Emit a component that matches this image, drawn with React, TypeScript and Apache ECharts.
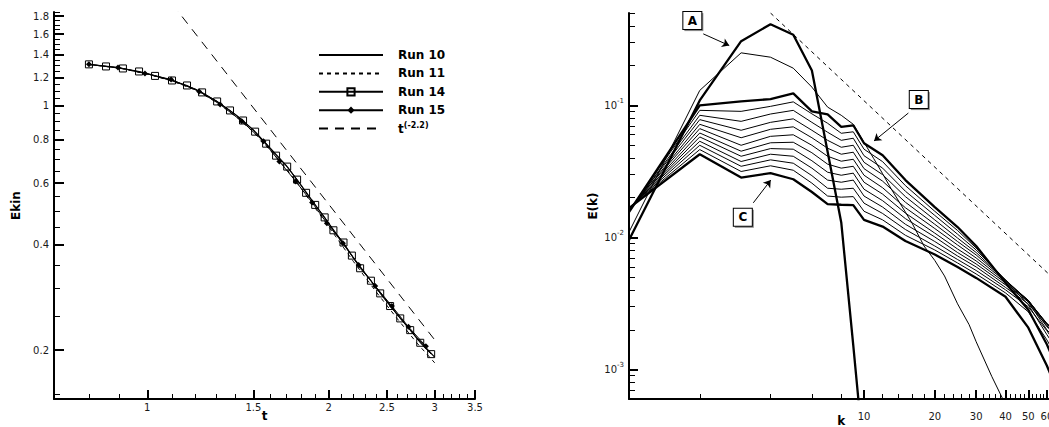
import React, { useEffect, useRef } from 'react';
import * as echarts from 'echarts';

// ---------------- Left panel: Ekin(t) ----------------
const run10T = [0.8, 0.9, 1.0, 1.1, 1.2, 1.3, 1.4, 1.5, 1.6, 1.7, 1.8, 1.9, 2.0, 2.2, 2.4, 2.6, 2.8, 3.0];
const run10E = [1.311, 1.28, 1.233, 1.178, 1.115, 1.032, 0.943, 0.851, 0.755, 0.674, 0.592, 0.52, 0.461, 0.367, 0.301, 0.253, 0.217, 0.191];
const run11T = [0.8, 0.9, 1.0, 1.1, 1.2, 1.3, 1.4, 1.5, 1.6, 1.7, 1.8, 1.9, 2.0, 2.2, 2.4, 2.6, 2.8, 3.0];
const run11E = [1.31, 1.278, 1.23, 1.174, 1.109, 1.024, 0.933, 0.84, 0.744, 0.662, 0.58, 0.509, 0.451, 0.358, 0.293, 0.246, 0.21, 0.184];
const run14T = [0.8, 0.854, 0.911, 0.969, 1.03, 1.099, 1.164, 1.233, 1.306, 1.372, 1.442, 1.51, 1.575, 1.636, 1.707, 1.773, 1.835, 1.9, 1.97, 2.037, 2.117, 2.186, 2.256, 2.351, 2.436, 2.53, 2.63, 2.732, 2.839, 2.96];
const run14E = [1.311, 1.293, 1.276, 1.251, 1.215, 1.179, 1.141, 1.09, 1.027, 0.968, 0.906, 0.842, 0.778, 0.719, 0.669, 0.614, 0.563, 0.52, 0.479, 0.44, 0.406, 0.3725, 0.3427, 0.3158, 0.2905, 0.2673, 0.2464, 0.2281, 0.2099, 0.1948];
const run15T = [0.8, 0.894, 0.991, 1.095, 1.219, 1.321, 1.435, 1.559, 1.657, 1.764, 1.878, 1.987, 2.112, 2.243, 2.39, 2.547, 2.714, 2.901];
const run15E = [1.311, 1.285, 1.235, 1.187, 1.097, 1.007, 0.902, 0.79, 0.692, 0.607, 0.528, 0.461, 0.404, 0.35, 0.305, 0.2673, 0.2331, 0.2052];
const powerT = [1.1, 3.0];
const powerE = [1.95, 0.214];
const tMajor = [1, 1.5, 2, 2.5, 3, 3.5];
const tMinor = [0.8, 0.9, 1.1, 1.2, 1.3, 1.4, 1.6, 1.7, 1.8, 1.9, 2.1, 2.2, 2.3, 2.4, 2.6, 2.7, 2.8, 2.9, 3.1, 3.2, 3.3, 3.4];
const ekinMajor = [0.2, 0.4, 0.6, 0.8, 1, 1.2, 1.4, 1.6, 1.8];
const ekinMinor = [0.15, 0.25, 0.3, 0.35, 0.45, 0.5, 0.55, 0.65, 0.7, 0.75, 0.85, 0.9, 0.95, 1.05, 1.1, 1.15, 1.25, 1.3, 1.35, 1.45, 1.5, 1.55, 1.65, 1.7, 1.75, 1.85];

// ---------------- Right panel: E(k) ----------------
const kInit = [1, 2, 3, 4, 5, 6, 7, 8, 9, 10];
const eInit = [0.00957, 0.109, 0.306, 0.411, 0.342, 0.1835, 0.0446, 0.013, 0.00153, 0.00021];
const kSecond = [1, 2, 3, 4, 5, 6, 7, 8, 9, 10, 11, 12, 13, 15, 16, 18, 20, 22, 25, 28, 30, 35, 40, 45];
const eSecond = [0.011, 0.1298, 0.2498, 0.2315, 0.1912, 0.1374, 0.097, 0.0841, 0.0719, 0.0526, 0.0395, 0.0304, 0.0236, 0.01557, 0.01287, 0.00863, 0.00671, 0.00512, 0.00315, 0.00219, 0.001627, 0.000885, 0.000544, 0.000352];
const kFam = [1, 2, 3, 4, 5, 6, 7, 8, 9, 10, 12, 15, 20, 25, 30, 40, 50, 60, 64];
const spec0 = [0.0156, 0.1, 0.1072, 0.1116, 0.1232, 0.0901, 0.0855, 0.0688, 0.0707, 0.0517, 0.0419, 0.0272, 0.017, 0.012, 0.00863, 0.00453, 0.00284, 0.00155, 0.00119];
const spec1 = [0.0158, 0.0917, 0.0901, 0.0983, 0.1063, 0.0863, 0.0732, 0.0615, 0.0631, 0.0466, 0.0375, 0.0247, 0.0158, 0.0113, 0.00833, 0.00469, 0.0031, 0.00184, 0.00155];
const spec2 = [0.0158, 0.0841, 0.0757, 0.086, 0.0917, 0.0744, 0.0626, 0.0544, 0.0564, 0.0416, 0.0335, 0.0224, 0.0147, 0.0106, 0.00805, 0.00478, 0.00326, 0.002, 0.00177];
const spec3 = [0.0161, 0.078, 0.0648, 0.0744, 0.0791, 0.0648, 0.0544, 0.0482, 0.0499, 0.0371, 0.0299, 0.0204, 0.0136, 0.00991, 0.0077, 0.00478, 0.00332, 0.00211, 0.00194];
const spec4 = [0.0161, 0.0719, 0.0569, 0.0659, 0.0688, 0.0569, 0.0474, 0.0427, 0.0442, 0.0332, 0.0267, 0.0185, 0.0126, 0.00933, 0.00738, 0.00474, 0.00335, 0.00219, 0.002];
const spec5 = [0.0164, 0.0667, 0.0499, 0.0583, 0.0599, 0.0499, 0.0412, 0.0378, 0.0391, 0.0296, 0.0238, 0.0168, 0.0117, 0.00878, 0.007, 0.00466, 0.00335, 0.00222, 0.00204];
const spec6 = [0.0164, 0.0618, 0.045, 0.0521, 0.0526, 0.0438, 0.0359, 0.0335, 0.0346, 0.0262, 0.0213, 0.0153, 0.0108, 0.00819, 0.00665, 0.00453, 0.00332, 0.00224, 0.00202];
const spec7 = [0.0164, 0.0577, 0.0412, 0.0471, 0.0466, 0.0381, 0.0312, 0.0296, 0.0307, 0.0232, 0.019, 0.0139, 0.0101, 0.0077, 0.00631, 0.00438, 0.00326, 0.00222, 0.00197];
const spec8 = [0.0167, 0.0535, 0.0376, 0.0427, 0.0412, 0.0335, 0.0272, 0.0262, 0.0272, 0.0206, 0.017, 0.0126, 0.00933, 0.00725, 0.00599, 0.00419, 0.00315, 0.00215, 0.00187];
const spec9 = [0.0167, 0.0499, 0.0346, 0.0387, 0.0365, 0.0294, 0.0236, 0.0232, 0.0236, 0.0182, 0.0152, 0.0115, 0.00863, 0.00682, 0.00563, 0.00402, 0.00299, 0.00197, 0.00166];
const spec10 = [0.0167, 0.0463, 0.0316, 0.0349, 0.0323, 0.0258, 0.0206, 0.0202, 0.0204, 0.0158, 0.0136, 0.0104, 0.00805, 0.00642, 0.0053, 0.00381, 0.00274, 0.00168, 0.00137];
const spec11 = [0.0167, 0.0427, 0.0284, 0.0307, 0.0276, 0.0221, 0.0179, 0.0177, 0.0176, 0.0136, 0.0121, 0.00941, 0.00744, 0.00599, 0.00495, 0.00356, 0.00208, 0.00107, 0.000812];
const slopeK = [4, 64];
const slopeE = [0.5, 0.0049];
const kMajor = [10, 20, 30, 40, 50, 60];
const kMinor = [2, 4, 6, 8, 12, 14, 16, 18, 22, 24, 26, 28, 32, 34, 36, 38, 42, 44, 46, 48, 52, 54, 56, 58, 62];
const ekMajor = [1e-3, 1e-2, 1e-1];
const ekMinor = [7e-4, 8e-4, 9e-4, 2e-3, 3e-3, 4e-3, 5e-3, 6e-3, 7e-3, 8e-3, 9e-3, 2e-2, 3e-2, 4e-2, 5e-2, 6e-2, 7e-2, 8e-2, 9e-2, 0.2, 0.3, 0.4, 0.5];

// annotations (data coordinates)
const annoText = ['A', 'B', 'C'];
const annoBoxK = [1.86, 17.1, 3.05];
const annoBoxE = [0.438, 0.1106, 0.01423];
const arrowFromK = [2.07, 15.44, 3.38];
const arrowFromE = [0.3476, 0.0875, 0.0183];
const arrowToK = [2.67, 11.03, 4.01];
const arrowToE = [0.2837, 0.0538, 0.0272];

const FONT = 'DejaVu Sans';
const TXT = '#1a1a1a';
const POWER = 't(-2.2)';
const lg = Math.log10;

const pairs = (xs: number[], ys: number[]) => xs.map((x, i) => [lg(x), lg(ys[i])]);

const baseAxis = (gridIndex: number, position: string, min: number, max: number) => ({
  type: 'value',
  gridIndex,
  position,
  min,
  max,
  axisLine: { show: false, onZero: false },
  axisTick: { show: false },
  axisLabel: { show: false },
  splitLine: { show: false },
});

const majorAxis = (
  gridIndex: number, position: string, min: number, max: number, ticks: number[], tickLen: number,
  formatter: any, margin: number, name: string, nameGap: number, rich?: any
) => ({
  ...baseAxis(gridIndex, position, min, max),
  axisLine: { show: true, onZero: false, lineStyle: { color: '#000', width: 2 } },
  axisTick: { show: true, inside: true, length: tickLen, lineStyle: { color: '#000', width: 2 }, customValues: ticks.map(lg) },
  axisLabel: { show: true, customValues: ticks.map(lg), formatter, margin, color: TXT, fontSize: 10, fontFamily: FONT, rich },
  name,
  nameLocation: 'middle',
  nameGap,
  nameMoveOverlap: false,
  nameTextStyle: { fontFamily: FONT, fontWeight: 'bold', fontSize: 12, color: '#000' },
});

const minorAxis = (gridIndex: number, position: string, min: number, max: number, ticks: number[], tickLen: number) => ({
  ...baseAxis(gridIndex, position, min, max),
  axisTick: { show: true, inside: true, length: tickLen, lineStyle: { color: '#000', width: 1 }, customValues: ticks.map(lg) },
});

const fmtPlain = (v: number) => String(parseFloat(Math.pow(10, v).toFixed(2)));
const fmtInt = (v: number) => String(Math.round(Math.pow(10, v)));
const fmtPow = (v: number) => `{m|10}{s|${Math.round(v)}}`;

const line = (name: string, xs: number[], ys: number[], xi: number, yi: number, width: number, extra: any = {}) => ({
  type: 'line',
  name,
  xAxisIndex: xi,
  yAxisIndex: yi,
  data: pairs(xs, ys),
  symbol: 'none',
  silent: true,
  animation: false,
  lineStyle: { color: '#000', width, type: 'solid' },
  itemStyle: { color: '#000' },
  emphasis: { disabled: true },
  ...extra,
});

const tMin = lg(0.7), tMax = lg(3.5), eMin = lg(0.145), eMax = lg(1.85);
const kMin = lg(1), kMax = lg(64), ekMin = lg(6e-4), ekMax = lg(0.5);

const family = [spec0, spec1, spec2, spec3, spec4, spec5, spec6, spec7, spec8, spec9, spec10, spec11];

const option: any = {
  animation: false,
  backgroundColor: '#fff',
  textStyle: { fontFamily: FONT },
  grid: [
    { left: 54, top: 12, width: 421, height: 387, containLabel: false, outerBoundsMode: 'none' },
    { left: 629, top: 13, width: 424.5, height: 386, containLabel: false, outerBoundsMode: 'none' },
  ],
  xAxis: [
    majorAxis(0, 'bottom', tMin, tMax, tMajor, 9, fmtPlain, 3, 't', 11),
    minorAxis(0, 'bottom', tMin, tMax, tMinor, 5),
    majorAxis(1, 'bottom', kMin, kMax, kMajor, 9, fmtInt, 12, 'k', 16),
    minorAxis(1, 'bottom', kMin, kMax, kMinor, 5),
  ],
  yAxis: [
    majorAxis(0, 'left', eMin, eMax, ekinMajor, 10, fmtPlain, 5, 'Ekin', 32),
    minorAxis(0, 'left', eMin, eMax, ekinMinor, 6),
    majorAxis(1, 'left', ekMin, ekMax, ekMajor, 9, fmtPow, 5, 'E(k)', 30, {
      m: { fontSize: 10, fontFamily: FONT, color: TXT, lineHeight: 16 },
      s: { fontSize: 7, fontFamily: FONT, color: TXT, lineHeight: 8, verticalAlign: 'top' },
    }),
    minorAxis(1, 'left', ekMin, ekMax, ekMinor, 6),
  ],
  legend: {
    show: true,
    orient: 'vertical',
    left: 318,
    top: 48,
    padding: 0,
    itemWidth: 64,
    itemHeight: 9,
    itemGap: 4.4,
    selectedMode: false,
    data: [
      { name: 'Run 10', itemStyle: { opacity: 0 } },
      { name: 'Run 11', itemStyle: { opacity: 0 } },
      { name: 'Run 14' },
      { name: 'Run 15' },
      { name: POWER, itemStyle: { opacity: 0 } },
    ],
    formatter: (n: string) => (n === POWER ? '{b|t}{s|(-2.2)}' : n),
    textStyle: {
      fontFamily: FONT, fontWeight: 'bold', fontSize: 12, color: '#000', lineHeight: 14, padding: [0, 0, 0, 10],
      rich: {
        b: { fontFamily: FONT, fontWeight: 'bold', fontSize: 12, color: '#000', lineHeight: 14 },
        s: { fontFamily: FONT, fontWeight: 'bold', fontSize: 8, color: '#000', lineHeight: 7, verticalAlign: 'top' },
      },
    },
  },
  series: [
    line('Run 10', run10T, run10E, 0, 0, 1.2),
    line('Run 11', run11T, run11E, 0, 0, 1, { lineStyle: { color: '#000', width: 1, type: [4, 4] } }),
    line('Run 14', run14T, run14E, 0, 0, 1, {
      symbol: 'rect', symbolSize: 7, showSymbol: true,
      itemStyle: { color: 'rgba(255,255,255,0)', borderColor: '#000', borderWidth: 1 },
    }),
    line('Run 15', run15T, run15E, 0, 0, 1, {
      symbol: 'diamond', symbolSize: 6, showSymbol: true, itemStyle: { color: '#000' },
    }),
    line(POWER, powerT, powerE, 0, 0, 1, { lineStyle: { color: '#000', width: 1, type: [9, 7] } }),
    line('initial', kInit, eInit, 2, 2, 2.3),
    line('second', kSecond, eSecond, 2, 2, 1),
    ...family.map((s, i) => line('spec' + i, kFam, s, 2, 2, i === 0 || i === family.length - 1 ? 2.3 : 1)),
    line('k^-5/3', slopeK, slopeE, 2, 2, 1, {
      lineStyle: { color: '#000', width: 1, type: [4, 4] },
      markLine: {
        silent: true,
        animation: false,
        symbol: ['none', 'arrow'],
        symbolSize: 7,
        lineStyle: { color: '#000', width: 1, type: 'solid' },
        label: { show: false },
        emphasis: { disabled: true },
        data: annoText.map((_, i) => [
          { coord: [lg(arrowFromK[i]), lg(arrowFromE[i])] },
          { coord: [lg(arrowToK[i]), lg(arrowToE[i])] },
        ]),
      },
      markPoint: {
        silent: true,
        animation: false,
        symbol: 'rect',
        symbolSize: [19, 18],
        data: [
          ...annoText.map((t, i) => ({
            name: t + '_shadow',
            coord: [lg(annoBoxK[i]), lg(annoBoxE[i])],
            symbolOffset: [1.5, 1.5],
            itemStyle: { color: '#888', borderWidth: 0 },
            label: { show: false },
          })),
          ...annoText.map((t, i) => ({
            name: t,
            coord: [lg(annoBoxK[i]), lg(annoBoxE[i])],
            itemStyle: { color: '#fff', borderColor: '#000', borderWidth: 1 },
            label: { show: true, position: 'inside', formatter: t, fontFamily: FONT, fontWeight: 'bold', fontSize: 12, color: '#000' },
          })),
        ],
      },
    }),
  ],
};

export default function App() {
  const ref = useRef<HTMLDivElement>(null);
  useEffect(() => {
    document.body.style.margin = '0';
    const chart = echarts.init(ref.current!, null, { renderer: 'svg' });
    chart.setOption(option);
    return () => chart.dispose();
  }, []);
  return <div ref={ref} style={{ position: 'absolute', left: 0, top: 0, width: 1049, height: 427, background: '#fff' }} />;
}
